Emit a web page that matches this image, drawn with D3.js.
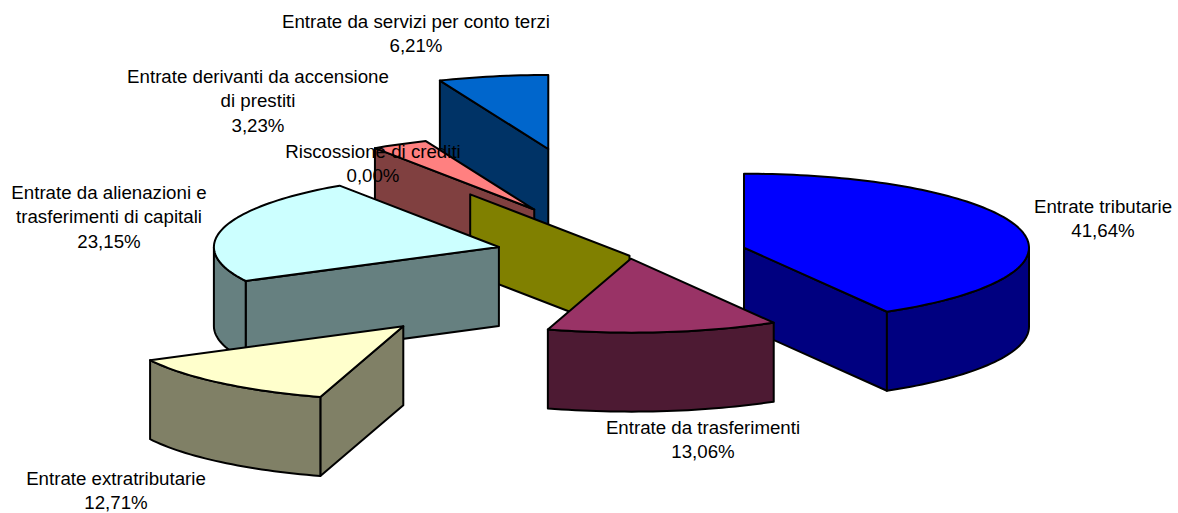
<!DOCTYPE html>
<html><head><meta charset="utf-8">
<style>html,body{margin:0;padding:0;background:#fff}svg{display:block}text{font-family:"Liberation Sans",Arial,sans-serif;font-size:18.7px;fill:#000}</style>
<script src="https://cdn.jsdelivr.net/npm/d3@7"></script>
</head><body>
<script>
// data
const categories = ["Entrate tributarie","Entrate da trasferimenti","Entrate extratributarie","Entrate da alienazioni e trasferimenti di capitali","Riscossione di crediti","Entrate derivanti da accensione di prestiti","Entrate da servizi per conto terzi"];
const values = [41.64,13.06,12.71,23.15,0.00,3.23,6.21];
const labelLines = [["Entrate tributarie"],["Entrate da trasferimenti"],["Entrate extratributarie"],["Entrate da alienazioni e","trasferimenti di capitali"],["Riscossione di crediti"],["Entrate derivanti da accensione","di prestiti"],["Entrate da servizi per conto terzi"]];
// style / layout
const topColors  = ["#0000FF","#993366","#FFFFCC","#CCFFFF","#FFFF00","#FF8080","#0066CC"];
const wallColors = ["#000080","#4D1A33","#808066","#668080","#808000","#804040","#003366"];
const explosion  = [0.416,0.04,1.24,0.473,0,0.708,1.47];
const drawOrder  = [6,5,4,0,1,3,2];
const labelCenterX = [1103,703,116,109,373,258,416];
const labelTopY    = [207,428,479,193,152,77,22];
const W=1178,H=513,CX=629.5,CY=255.7,RX=285,RY=74,DEPTH=79,LINE=24.3;

const x=d3.scaleLinear().domain([-1,1]).range([CX-RX,CX+RX]);
const y=d3.scaleLinear().domain([-1,1]).range([CY-RY,CY+RY]);
const pie=d3.pie().sort(null).value(d=>d)(values);
const svg=d3.select("body").append("svg").attr("width",W).attr("height",H);
const line=d3.line().x(p=>p[0]).y(p=>p[1]);
const fmt=v=>v.toFixed(2).replace(".",",")+"%";

const fmtSlice=(g,d,cls,pts,fill)=>g.append("path").attr("class",cls).attr("d",line(pts)+"Z")
  .attr("fill",fill).attr("stroke","#000").attr("stroke-width",2).attr("stroke-linejoin","round");

drawOrder.forEach(i=>{
  const d=pie[i],a0=d.startAngle,a1=d.endAngle,mid=(a0+a1)/2,e=explosion[i];
  const ox=e*Math.sin(mid),oy=-e*Math.cos(mid);
  const P=(r,t,dz=0)=>[x(ox+r*Math.sin(t)),y(oy-r*Math.cos(t))+dz];
  const arc=(s,t,dz=0)=>{const n=Math.max(2,Math.ceil((t-s)*40));return d3.range(n+1).map(k=>P(1,s+(t-s)*k/n,dz));};
  const g=svg.append("g").attr("class","slice").datum({category:categories[i],value:values[i]});
  const face=t=>[P(0,t),P(1,t),P(1,t,DEPTH),P(0,t,DEPTH)];
  if(Math.sin(a0)<-1e-6) fmtSlice(g,d,"cut",face(a0),wallColors[i]);
  if(Math.sin(a1)>1e-6)  fmtSlice(g,d,"cut",face(a1),wallColors[i]);
  const s=Math.max(a0,Math.PI/2),t=Math.min(a1,Math.PI*1.5);
  if(t>s) fmtSlice(g,d,"wall",[...arc(s,t),...arc(s,t,DEPTH).reverse()],wallColors[i]);
  if(a1>a0) fmtSlice(g,d,"top",[P(0,a0),...arc(a0,a1)],topColors[i]);
});

values.forEach((v,i)=>{
  const lines=[...labelLines[i],fmt(v)];
  const t=svg.append("text").attr("text-anchor","middle");
  lines.forEach((l,k)=>t.append("tspan").attr("x",labelCenterX[i]).attr("y",labelTopY[i]+k*LINE+6).text(l));
});
</script>
</body></html>
